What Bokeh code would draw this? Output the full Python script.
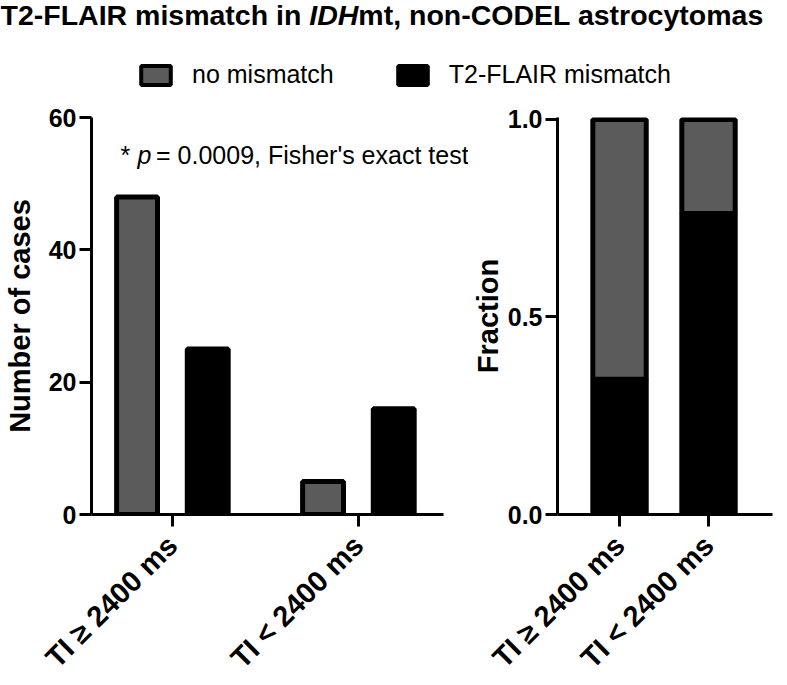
import numpy as np
from bokeh.plotting import figure
from bokeh.layouts import column, row
from bokeh.models import (ColumnDataSource, FixedTicker, Legend, LegendItem, Label,
                          Range1d, PrintfTickFormatter)
from bokeh.transform import dodge
from bokeh.embed import file_html
from bokeh.resources import INLINE

# ---- data ----
categories = ["TI ≥ 2400 ms", "TI < 2400 ms"]
no_mismatch = [48, 5]
mismatch = [25, 16]
series_labels = ["no mismatch", "T2-FLAIR mismatch"]
count_ticks = [0, 20, 40, 60]
fraction_ticks = [0.0, 0.5, 1.0]

GREY = "#5b5b5b"
FONT = "Liberation Sans"

idx = list(range(len(categories)))
totals = [a + b for a, b in zip(no_mismatch, mismatch)]
frac_mismatch = [m / t for m, t in zip(mismatch, totals)]
frac_no = [n / t for n, t in zip(no_mismatch, totals)]

src1 = ColumnDataSource(dict(x=idx, no=no_mismatch, mm=mismatch))
src2 = ColumnDataSource(dict(x=idx, mm=frac_mismatch, no=frac_no))


def style_axes(p, ylabel, label_standoff):
    for ax in (p.xaxis, p.yaxis):
        ax.axis_line_width = 3
        ax.axis_line_color = "black"
        ax.major_tick_line_width = 3
        ax.major_tick_line_color = "black"
        ax.major_tick_out = 12
        ax.major_tick_in = 0
        ax.minor_tick_line_color = None
        ax.major_label_text_font = FONT
        ax.major_label_text_font_style = "bold"
        ax.major_label_text_color = "black"
    p.yaxis.major_label_text_font_size = "25px"
    p.yaxis.major_label_standoff = 3
    p.yaxis.axis_label = ylabel
    p.yaxis.axis_label_text_font = FONT
    p.yaxis.axis_label_text_font_style = "bold"
    p.yaxis.axis_label_text_font_size = "29px"
    p.yaxis.axis_label_text_color = "black"
    p.yaxis.axis_label_standoff = label_standoff
    p.xaxis.major_label_text_font_size = "29px"
    p.xaxis.major_label_orientation = np.pi / 4
    p.xaxis.major_label_standoff = 14
    p.xaxis.ticker = FixedTicker(ticks=idx)
    p.xaxis.major_label_overrides = {i: c for i, c in zip(idx, categories)}
    p.grid.visible = False
    p.outline_line_color = None


# ---- header: title + legend ----
p0 = figure(width=771, height=96, x_range=Range1d(0, 771), y_range=Range1d(0, 96),
            x_axis_type=None, y_axis_type=None, toolbar_location=None,
            output_backend="svg", min_border=0)
p0.grid.visible = False
p0.outline_line_color = None

fs_title = 28.5
w_part1 = 10.835 * fs_title
w_idh = 1.722 * fs_title
for txt, xx, style in [("T2-FLAIR mismatch in", 0, "bold"),
                       ("IDH", w_part1, "bold italic"),
                       ("mt, non-CODEL astrocytomas", w_part1 + w_idh, "bold")]:
    p0.add_layout(Label(x=xx, y=82, text=txt, text_font=FONT, text_font_style=style,
                        text_font_size=f"{fs_title}px", text_color="black",
                        text_baseline="alphabetic", text_align="left"))

# legend-only renderers (hidden) built from the real data
r_no = p0.vbar(x="x", top="no", width=0.5, source=src1, fill_color=GREY,
               line_color="black", line_width=4, visible=False)
r_mm = p0.vbar(x="x", top="mm", width=0.5, source=src1, fill_color="black",
               line_color="black", line_width=4, visible=False)
legend = Legend(items=[LegendItem(label=series_labels[0], renderers=[r_no]),
                       LegendItem(label=series_labels[1], renderers=[r_mm])],
                orientation="horizontal", location=(137, 7), click_policy="none",
                label_text_font=FONT, label_text_font_size="25px", label_text_color="black",
                glyph_width=37, glyph_height=24, label_standoff=18, spacing=60,
                padding=0, margin=0, border_line_color=None, background_fill_alpha=0,
                inactive_fill_alpha=0)
p0.add_layout(legend)

# ---- left: counts ----
X1_START, X1_AXIS_END, X1_END = -0.435, 1.457, 1.592
p1 = figure(frame_width=377, frame_height=397, x_range=Range1d(X1_START, X1_END),
            y_range=Range1d(0, 60), toolbar_location=None, output_backend="svg",
            min_border_left=83, min_border_right=0, min_border_top=21, min_border_bottom=5)
p1.vbar(x=dodge("x", -0.19), top="no", width=0.22, bottom=0,
        source=src1, fill_color=GREY, line_color="black", line_width=5)
p1.vbar(x=dodge("x", 0.19), top="mm", width=0.22, bottom=0,
        source=src1, fill_color="black", line_color="black", line_width=5)
style_axes(p1, "Number of cases", 10)
p1.xaxis.bounds = (X1_START, X1_AXIS_END)
p1.yaxis.ticker = FixedTicker(ticks=count_ticks)

ann_y = 54.3
for txt, xx, style in [("*", -0.2796, "normal"), ("p", -0.188, "italic"),
                       ("= 0.0009, Fisher's exact test", -0.088, "normal")]:
    p1.add_layout(Label(x=xx, y=ann_y, text=txt, text_font=FONT, text_font_style=style,
                        text_font_size="25px", text_color="black",
                        text_baseline="alphabetic", text_align="left"))

# ---- right: fractions ----
p2 = figure(frame_width=215, frame_height=397, x_range=Range1d(-0.697, 1.719),
            y_range=Range1d(0, 1.005), toolbar_location=None, output_backend="svg",
            min_border_left=86, min_border_right=5, min_border_top=21, min_border_bottom=5)
p2.vbar_stack(["mm", "no"], x="x", width=0.6, source=src2,
              fill_color=["black", GREY], line_color="black", line_width=5)
style_axes(p2, "Fraction", 1)
p2.yaxis.ticker = FixedTicker(ticks=fraction_ticks)
p2.yaxis.formatter = PrintfTickFormatter(format="%.1f")

layout = column(p0, row(p1, p2, spacing=0), spacing=0)
open("out.html", "w").write(file_html(layout, INLINE))
